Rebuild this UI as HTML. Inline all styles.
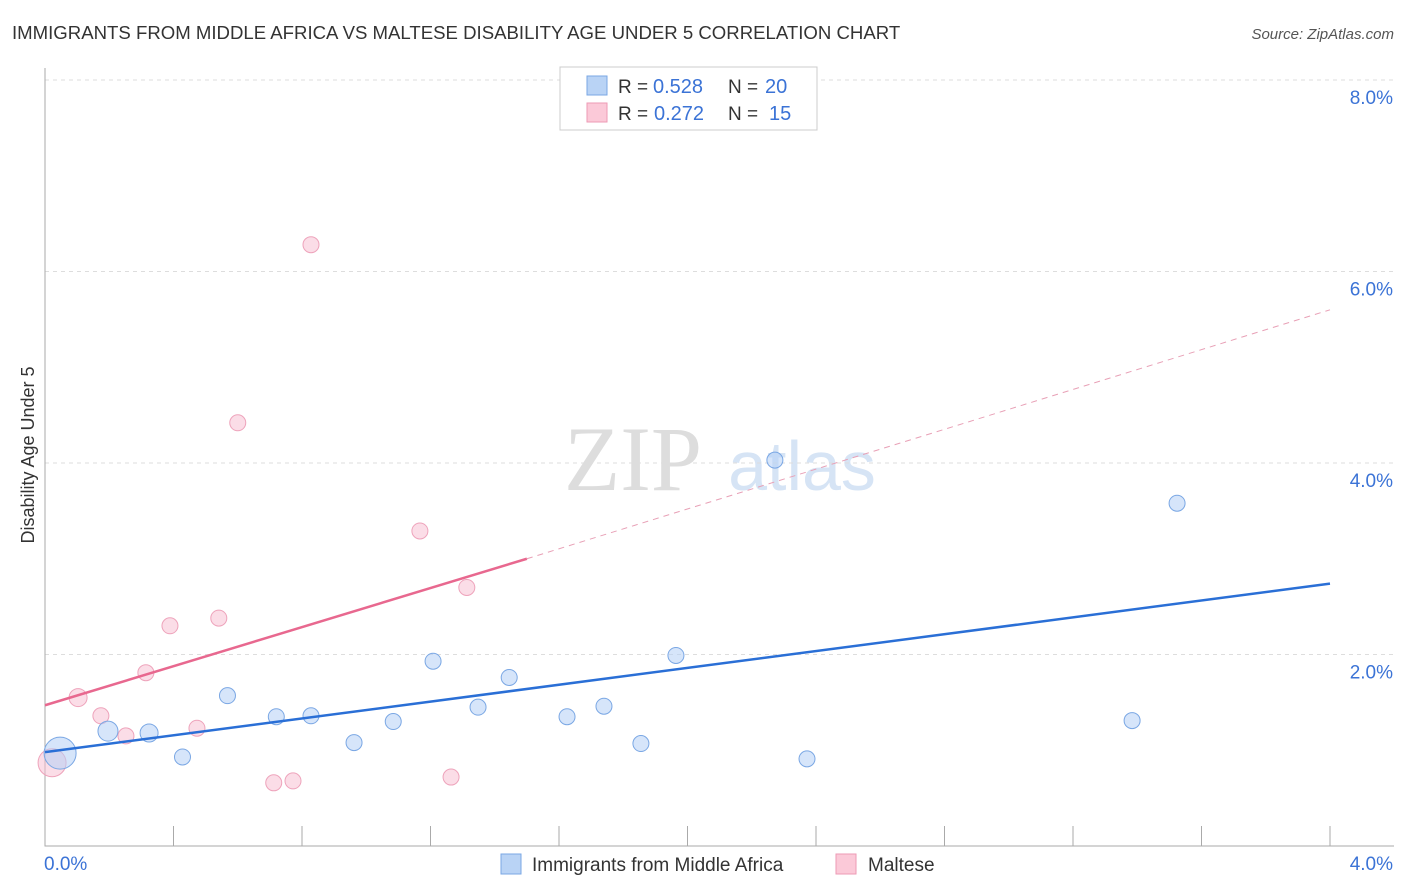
<!DOCTYPE html>
<html><head><meta charset="utf-8"><style>
body{margin:0;background:#fff;font-family:"Liberation Sans",sans-serif}
svg{display:block}
</style></head><body>
<svg id="c" width="1406" height="892" xmlns="http://www.w3.org/2000/svg">
<text x="12" y="39" font-size="18.6" fill="#333">IMMIGRANTS FROM MIDDLE AFRICA VS MALTESE DISABILITY AGE UNDER 5 CORRELATION CHART</text>
<text x="1394" y="39" font-size="15" fill="#555" font-style="italic" text-anchor="end">Source: ZipAtlas.com</text>
<text x="633" y="490" font-size="92" fill="#ddd" font-family="Liberation Serif,serif" text-anchor="middle">ZIP</text>
<text x="802" y="490" font-size="70" fill="#d6e4f5" text-anchor="middle">atlas</text>
<text transform="translate(34,455) rotate(-90)" font-size="18" fill="#333" text-anchor="middle">Disability Age Under 5</text>
<g id="grid"></g><g id="marks"></g>
<g>
<rect x="560" y="67" width="257" height="63" fill="#fff" stroke="#ccc"/>
<rect x="587" y="76" width="20" height="19" fill="#b9d3f5" stroke="#7aa7e4"/>
<rect x="587" y="103" width="20" height="19" fill="#fbc9d8" stroke="#ee9ab5"/>
<text x="618" y="93" font-size="19" fill="#333">R =</text>
<text x="653" y="93" font-size="20" fill="#3b73d6">0.528</text>
<text x="728" y="93" font-size="19" fill="#333">N =</text>
<text x="765" y="93" font-size="20" fill="#3b73d6">20</text>
<text x="618" y="120" font-size="19" fill="#333">R =</text>
<text x="654" y="120" font-size="20" fill="#3b73d6">0.272</text>
<text x="728" y="120" font-size="19" fill="#333">N =</text>
<text x="769" y="120" font-size="20" fill="#3b73d6">15</text>
</g>
<g>
<rect x="501" y="854" width="20" height="20" fill="#b9d3f5" stroke="#7aa7e4"/>
<text x="532" y="871" font-size="19" fill="#333">Immigrants from Middle Africa</text>
<rect x="836" y="854" width="20" height="20" fill="#fbc9d8" stroke="#ee9ab5"/>
<text x="868" y="871" font-size="19" fill="#333">Maltese</text>
</g>
</svg>
<script>
const yTicks=[2,4,6,8];
const xTickLabels=["0.0%","4.0%"];
const blueX=[0.047,0.196,0.324,0.428,0.568,0.72,0.828,0.962,1.084,1.208,1.348,1.445,1.625,1.74,1.855,1.964,2.272,2.372,3.384,3.524];
const blueY=[0.97,1.2,1.18,0.93,1.57,1.35,1.36,1.08,1.3,1.93,1.45,1.76,1.35,1.46,1.07,1.99,4.03,0.91,1.31,3.58];
const blueR=[16,10,9,8,8,8,8,8,8,8,8,8,8,8,8,8,8,8,8,8];
const pinkX=[0.022,0.103,0.174,0.252,0.314,0.389,0.473,0.541,0.6,0.712,0.772,0.828,1.167,1.264,1.313];
const pinkY=[0.87,1.55,1.36,1.15,1.81,2.3,1.23,2.38,4.42,0.66,0.68,6.28,3.29,0.72,2.7];
const pinkR=[14,9,8,8,8,8,8,8,8,8,8,8,8,8,8];
const blueLine=[0,0.98,4,2.74];
const pinkLine=[0,1.47,1.5,3.0,4,5.6];
const X0=45,X1=1330,Y0=846,PY=95.75;
const sx=v=>X0+(X1-X0)*v/4, sy=v=>Y0-v*PY;
const NS="http://www.w3.org/2000/svg";
function mk(t,a,p){const e=document.createElementNS(NS,t);for(const k in a)e.setAttribute(k,a[k]);p.appendChild(e);return e;}
const g=document.getElementById('grid'),m=document.getElementById('marks');
yTicks.forEach(t=>{
 const l=mk('line',{x1:X0,x2:1394,y1:sy(t),y2:sy(t),stroke:'#ddd','stroke-dasharray':'4,4'},g);
 
 
 const tx=mk('text',{x:1393,y:sy(t)+24,'font-size':19,fill:'#3b73d6','text-anchor':'end'},g);
 tx.textContent=t.toFixed(1)+'%';
 
 
});
const ax=mk('path',{d:`M${X0},68V${Y0}H1394`,stroke:'#aaa',fill:'none'},g);


for(let i=1;i<=10;i++){const x=sx(i*0.4);const t=mk('line',{x1:x,x2:x,y1:826,y2:Y0,stroke:'#aaa'},g);
 
 }
xTickLabels.forEach((s,i)=>{const t=mk('text',{x:i?1393:44,y:870,'font-size':19,fill:'#3b73d6','text-anchor':i?'end':'start'},g);t.textContent=s;
 
 });
pinkX.forEach((v,i)=>{const c=mk('circle',{cx:sx(v),cy:sy(pinkY[i]),r:pinkR[i],fill:'rgba(248,187,207,0.5)',stroke:'#eea3bb'},m);
 
 });
blueX.forEach((v,i)=>{const c=mk('circle',{cx:sx(v),cy:sy(blueY[i]),r:blueR[i],fill:'rgba(180,208,245,0.55)',stroke:'#7aa7e4'},m);
 
 });
let l=mk('line',{x1:sx(blueLine[0]),y1:sy(blueLine[1]),x2:sx(blueLine[2]),y2:sy(blueLine[3]),stroke:'#2a6fd6','stroke-width':2.5},m);


l=mk('line',{x1:sx(pinkLine[0]),y1:sy(pinkLine[1]),x2:sx(pinkLine[2]),y2:sy(pinkLine[3]),stroke:'#e8688f','stroke-width':2.5},m);


l=mk('line',{x1:sx(pinkLine[2]),y1:sy(pinkLine[3]),x2:sx(pinkLine[4]),y2:sy(pinkLine[5]),stroke:'#e8a0b6','stroke-width':1,'stroke-dasharray':'6,5'},m);


</script>
</body></html>
